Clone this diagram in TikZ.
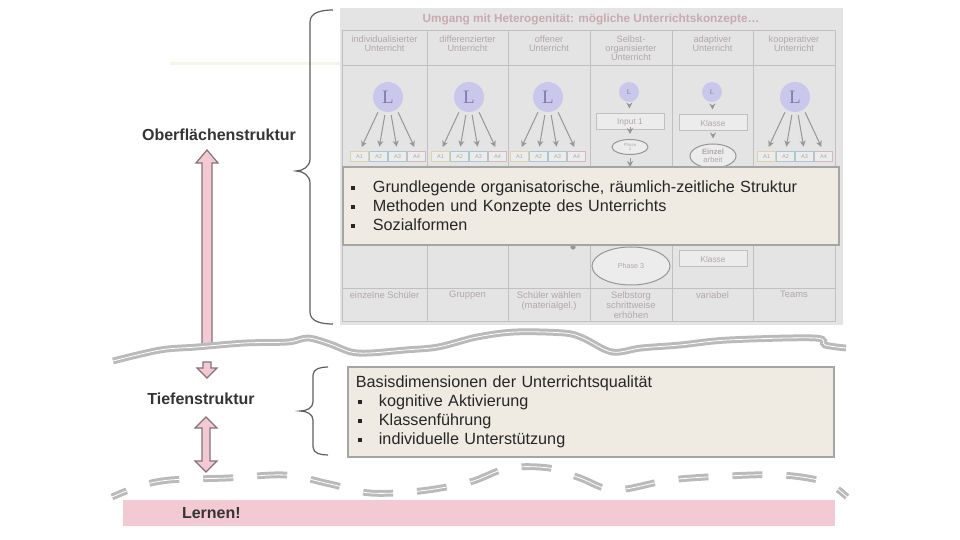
\documentclass[tikz,border=0pt]{standalone}
\usepackage{fontspec}
\setmainfont{Liberation Sans}
\newfontfamily\lfont{Liberation Serif}
\usetikzlibrary{positioning,arrows.meta,calc,shapes.geometric}
\definecolor{panelgray}{RGB}{228,228,228}
\definecolor{gridgray}{RGB}{192,192,192}
\definecolor{fadetext}{RGB}{176,168,170}
\definecolor{fadetitle}{RGB}{200,170,178}
\definecolor{fadearrow}{RGB}{150,150,150}
\definecolor{taskfill}{RGB}{236,236,236}
\definecolor{lavender}{RGB}{202,199,236}
\definecolor{lavtext}{RGB}{128,124,168}
\definecolor{beige}{RGB}{239,235,226}
\definecolor{boxline}{RGB}{165,165,165}
\definecolor{bodytext}{RGB}{38,38,38}
\definecolor{rose}{RGB}{243,202,212}
\definecolor{roseline}{RGB}{132,114,120}
\definecolor{wavegray}{RGB}{186,186,186}
\definecolor{labeltext}{RGB}{52,52,52}
\definecolor{bracegray}{RGB}{95,95,95}
\definecolor{faintline}{RGB}{245,245,232}
\definecolor{taskA}{RGB}{222,212,172}
\definecolor{taskB}{RGB}{168,200,212}
\definecolor{taskC}{RGB}{212,182,196}
\newcommand{\sqb}{\makebox[11pt][l]{\raisebox{1.3pt}{\rule{1.9pt}{1.9pt}}}}
\tikzset{
    tabline/.style={draw=gridgray, line width=0.5pt},
    headtext/.style={align=center, font=\fontsize{4.6}{4.6}\selectfont, text=fadetext, inner sep=0pt},
    foottext/.style={align=center, font=\fontsize{4.7}{5}\selectfont, text=fadetext, inner sep=0pt, anchor=north},
    teacher/.style={circle, fill=lavender, minimum size=15pt, inner sep=0pt, text=lavtext, font=\lfont\fontsize{9.5}{9.5}\selectfont},
    smallteacher/.style={teacher, minimum size=10pt, font=\lfont\fontsize{3.5}{3.5}\selectfont},
    taskbox/.style={draw=#1, fill=taskfill, line width=0.5pt, minimum width=9pt, minimum height=5pt, inner sep=0pt, text=fadetext, font=\fontsize{2.8}{2.8}\selectfont},
    stepbox/.style={draw=gridgray, fill=taskfill, line width=0.5pt, minimum width=34pt, minimum height=8pt, inner sep=0pt, text=fadetext, font=\fontsize{4.2}{4.2}\selectfont},
    phaseell/.style={ellipse, draw=fadearrow, fill=taskfill, line width=0.5pt, inner sep=0pt, align=center, text=fadetext},
    fan/.style={-{Stealth[length=3pt,width=3pt]}, draw=fadearrow, line width=0.5pt, shorten <=1.5pt, shorten >=2.5pt},
    infobox/.style={draw=boxline, line width=0.9pt, fill=beige, align=left, inner xsep=4pt, inner ysep=0pt, text=bodytext, font=\fontsize{8.1}{9.5}\selectfont},
    levellabel/.style={font=\bfseries\fontsize{8}{8}\selectfont, text=labeltext},
    braceline/.style={draw=bracegray, line width=0.6pt},
    shaft/.style={fill=rose, draw=roseline, line width=0.6pt, line join=miter},
    cutline/.style={draw=wavegray, line width=1.5pt, double=white, double distance=0.4pt, line cap=butt},
    cutdash/.style={cutline, dash pattern=on 15pt off 12pt, dash phase=7pt}
}

\begin{document}
\begin{tikzpicture}[x=0.5pt,y=-0.5pt]
\useasboundingbox (0,0) rectangle (960,540);
\fill[white] (0,0) rectangle (960,540);
\draw[faintline, line width=1.5pt] (170,64) -- (340,64);
\fill[panelgray] (340,8) rectangle (843,325);
\node[font=\bfseries\fontsize{5.9}{6}\selectfont, text=fadetitle] (tabtitle) at (591,19) {Umgang mit Heterogenität: mögliche Unterrichtskonzepte…};
\draw[tabline] (342,31) rectangle (835,322);
\draw[tabline] (342,66) -- (835,66);
\draw[tabline] (342,289) -- (835,289);
\foreach \x in {427,508,590,672,753} \draw[tabline] (\x,31) -- (\x,322);
\node[headtext] (h1) at (384.5,44) {individualisierter\\Unterricht};
\node[headtext] (h2) at (467.5,44) {differenzierter\\Unterricht};
\node[headtext] (h3) at (549,44) {offener\\Unterricht};
\node[headtext] (h4) at (631,48) {Selbst-\\organisierter\\Unterricht};
\node[headtext] (h5) at (712.5,44) {adaptiver\\Unterricht};
\node[headtext] (h6) at (794,44) {kooperativer\\Unterricht};
\foreach \c/\cx in {1/388,2/469,3/548,6/795} {
    \node[teacher] (L\c) at (\cx,97) {L};
    \node[taskbox=taskA] (A\c1) at (\cx-28.5,157) {A1};
    \node[taskbox=taskB] (A\c2) at (\cx-9.5,157) {A2};
    \node[taskbox=taskB] (A\c3) at (\cx+9.5,157) {A3};
    \node[taskbox=taskC] (A\c4) at (\cx+28.5,157) {A4};
    \draw[fan] (L\c.-125) -- (A\c1.north);
    \draw[fan] (L\c.-100) -- (A\c2.north);
    \draw[fan] (L\c.-80) -- (A\c3.north);
    \draw[fan] (L\c.-55) -- (A\c4.north);
}
\node[smallteacher] (L4) at (629,92) {L};
\node[stepbox] (input) at (630,122) {Input 1};
\node[phaseell, minimum width=18pt, minimum height=7.5pt, font=\fontsize{2.2}{2.4}\selectfont] (ph1) at (630,147) {Phase\\1};
\coordinate (ph1out) at (630,172);
\draw[fan] (L4) -- (input);
\draw[fan] (input) -- (ph1);
\draw[fan] (ph1) -- (ph1out);
\coordinate (ph3in) at (630,238);
\node[phaseell, minimum width=39pt, minimum height=19pt, font=\fontsize{3.6}{3.6}\selectfont] (ph3) at (631,266) {Phase 3};
\draw[fan] (ph3in) -- (ph3);
\node[smallteacher] (L5) at (712,92) {L};
\node[stepbox] (class1) at (713,123) {Klasse};
\node[phaseell, minimum width=23pt, minimum height=12pt, font=\fontsize{3.8}{4}\selectfont] (single) at (713,156) {\textbf{Einzel}\\arbeit};
\draw[fan] (L5) -- (class1);
\draw[fan] (class1) -- (single);
\coordinate (class2in) at (713,240);
\node[stepbox] (class2) at (713,259) {Klasse};
\draw[fan] (class2in) -- (class2);
\draw[taskC, line width=0.6pt] (493,232) circle (5pt);
\fill[fadearrow] (573,247) circle (1.3pt);
\node[foottext] (f1) at (384.5,291) {einzelne Schüler};
\node[foottext] (f2) at (467.5,291) {Gruppen};
\node[foottext] (f3) at (549,291) {Schüler wählen\\(materialgel.)};
\node[foottext] (f4) at (631,291) {Selbstorg\\schrittweise\\erhöhen};
\node[foottext] (f5) at (712.5,291) {variabel};
\node[foottext] (f6) at (794,291) {Teams};
\node[infobox, anchor=north west, minimum width=248pt, minimum height=39pt, text width=240pt] (surface) at (342,166) {\sqb Grundlegende organisatorische, räumlich-zeitliche Struktur\\\sqb Methoden und Konzepte des Unterrichts\\\sqb Sozialformen};
\draw[braceline] (333,10) to[out=180,in=90] (310,22) -- (310,159) to[out=-90,in=0] (296,171) to[out=0,in=90] (310,183) -- (310,312) to[out=-90,in=180] (333,324);
\node[levellabel] (surflabel) at (219,135) {Oberflächenstruktur};
\draw[shaft] (207,150) -- (218,163) -- (212,163) -- (212,346) -- (202,346) -- (202,163) -- (196,163) -- cycle;
\draw[shaft] (203,362) -- (211,362) -- (211,368) -- (217,368) -- (207,378) -- (197,368) -- (203,368) -- cycle;
\draw[cutline] plot[smooth, tension=0.55] coordinates {(113,361) (160,350) (197,347) (245,343) (288,342) (308,338) (330,344) (351,352) (370,353) (405,350) (438,347) (477,337) (515,332) (564,333) (583,338) (612,352) (641,348) (680,345) (728,340) (815,338) (825,345) (846,348)};
\node[infobox, anchor=north west, minimum width=243pt, minimum height=45pt, text width=235pt] (depth) at (347,366) {Basisdimensionen der Unterrichtsqualität\\\hspace*{1pt}\makebox[10.5pt][l]{\raisebox{1.3pt}{\rule{1.9pt}{1.9pt}}}kognitive Aktivierung\\\hspace*{1pt}\makebox[10.5pt][l]{\raisebox{1.3pt}{\rule{1.9pt}{1.9pt}}}Klassenführung\\\hspace*{1pt}\makebox[10.5pt][l]{\raisebox{1.3pt}{\rule{1.9pt}{1.9pt}}}individuelle Unterstützung};
\draw[braceline] (328,367) to[out=180,in=90] (313,375) -- (313,402) to[out=-90,in=0] (300,411) to[out=0,in=90] (313,420) -- (313,447) to[out=-90,in=180] (328,455);
\node[levellabel] (deeplabel) at (201,399) {Tiefenstruktur};
\draw[shaft] (206,417) -- (217,428) -- (210,428) -- (210,461) -- (217,461) -- (206,472) -- (195,461) -- (202,461) -- (202,428) -- (195,428) -- cycle;
\draw[cutdash] plot[smooth, tension=0.55] coordinates {(112,497) (140,486) (170,480) (228,478) (285,475) (330,484) (370,493) (420,491) (470,482) (508,468) (549,468) (580,478) (615,490) (670,480) (727,476) (782,475) (825,482) (847,497)};
\fill[rose] (123,500) rectangle (835,526);
\node[font=\bfseries\fontsize{8}{8}\selectfont, text=labeltext, anchor=west] (learn) at (175,513) {Lernen!};
\end{tikzpicture}
\end{document}
